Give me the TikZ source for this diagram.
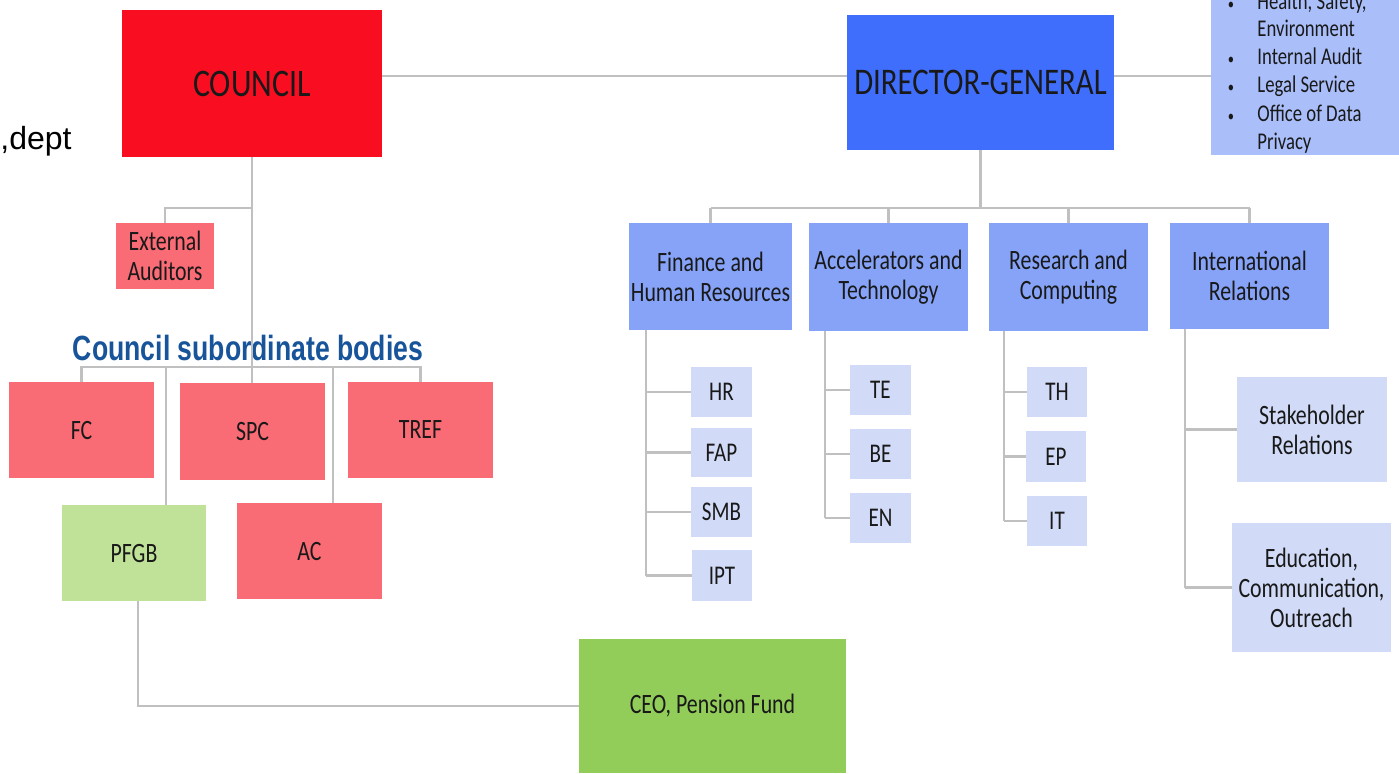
\documentclass[tikz,border=0pt]{standalone}
\usepackage{fontspec}
\setmainfont[FakeStretch=0.78]{Carlito}
\newfontfamily\bigfont[FakeStretch=0.82]{Carlito}
\newfontfamily\arialfont{Liberation Sans}
\newfontfamily\titlefont[FakeStretch=0.76]{Liberation Sans}
\definecolor{cred}{RGB}{248,14,32}
\definecolor{cdg}{RGB}{63,110,253}
\definecolor{cside}{RGB}{170,191,250}
\definecolor{cdept}{RGB}{134,163,248}
\definecolor{cunit}{RGB}{209,219,247}
\definecolor{csalmon}{RGB}{249,107,117}
\definecolor{cpfgb}{RGB}{191,226,152}
\definecolor{cceo}{RGB}{146,205,90}
\definecolor{ctitle}{RGB}{24,84,154}
\definecolor{cline}{RGB}{192,192,192}
\definecolor{ctext}{RGB}{25,25,25}
\tikzset{
  box/.style={rectangle, inner sep=0pt, outer sep=0pt, draw=none, align=center, text=ctext},
  bigtxt/.style={font=\bigfont\fontsize{19.5}{21}\selectfont},
  dgtxt/.style={font=\bigfont\fontsize{18.8}{21}\selectfont},
  midtxt/.style={font=\fontsize{14}{15}\selectfont},
  unittxt/.style={font=\fontsize{13.5}{15}\selectfont},
  sidetxt/.style={font=\fontsize{12}{14}\selectfont, text=ctext, inner sep=0pt},
  bul/.style={font=\fontsize{8}{10}\selectfont, text=ctext, inner sep=0pt},
  conn/.style={draw=cline, line width=1.3pt},
}
% style, name, x1, y1, x2, y2, text  (pixel coordinates)
\newcommand\mkbox[7]{%
  \pgfmathsetmacro\bxw{(#5-#3)*0.5}%
  \pgfmathsetmacro\bxh{(#6-#4)*0.5}%
  \node[box,#1,minimum width=\bxw pt,minimum height=\bxh pt] (#2) at ({(#3+#5)/2},{(#4+#6)/2}) {#7};%
}
\begin{document}
\begin{tikzpicture}[x=0.5pt,y=-0.5pt]
\useasboundingbox (0,0) rectangle (1399,773);
\clip (0,0) rectangle (1399,773);
% helper coordinates
\coordinate (cdline) at (0,76);
\coordinate (eabus) at (0,208);
\coordinate (sbus) at (0,367);
\coordinate (dgbus) at (0,208);
\coordinate (pfx) at (166,0);
\coordinate (acx) at (333,0);
\coordinate (pfcx) at (138,0);
\coordinate (finx) at (646,0);
\coordinate (accx) at (825,0);
\coordinate (resx) at (1004,0);
\coordinate (intx) at (1185,0);
% free text
\node[anchor=base west, inner sep=0pt, font=\arialfont\fontsize{16}{18}\selectfont] (dept) at (0,149) {,dept};
\node[anchor=base, inner sep=0pt, text=ctitle, font=\titlefont\bfseries\fontsize{17.5}{20}\selectfont] (title) at (248,360) {Council subordinate bodies};
% top level
\mkbox{bigtxt, fill=cred}{council}{122}{10}{382}{157}{COUNCIL}
\mkbox{dgtxt, fill=cdg}{dg}{847}{15}{1114}{150}{DIRECTOR-GENERAL}
\mkbox{fill=cside}{side}{1211}{-10}{1410}{155}{}
\node[bul, anchor=base] (b1) at (1231,9) {\textbullet};
\node[sidetxt, anchor=base west] (s1) at (1257,9) {Health, Safety,};
\node[sidetxt, anchor=base west] (s2) at (1257,36) {Environment};
\node[bul, anchor=base] (b3) at (1231,64) {\textbullet};
\node[sidetxt, anchor=base west] (s3) at (1257,64) {Internal Audit};
\node[bul, anchor=base] (b4) at (1231,92) {\textbullet};
\node[sidetxt, anchor=base west] (s4) at (1257,92) {Legal Service};
\node[bul, anchor=base] (b5) at (1231,121) {\textbullet};
\node[sidetxt, anchor=base west] (s5) at (1257,121) {Office of Data};
\node[sidetxt, anchor=base west] (s6) at (1257,149) {Privacy};
% departments
\mkbox{midtxt, fill=cdept}{fin}{629}{223}{792}{330}{Finance and\\Human Resources}
\mkbox{midtxt, fill=cdept}{acc}{809}{223}{968}{331}{Accelerators and\\Technology}
\mkbox{midtxt, fill=cdept}{res}{989}{223}{1148}{331}{Research and\\Computing}
\mkbox{midtxt, fill=cdept}{intl}{1170}{223}{1329}{329}{International\\Relations}
% units
\mkbox{unittxt, fill=cunit}{hr}{691}{367}{752}{417}{HR}
\mkbox{unittxt, fill=cunit}{fap}{691}{428}{752}{477}{FAP}
\mkbox{unittxt, fill=cunit}{smb}{691}{487}{752}{537}{SMB}
\mkbox{unittxt, fill=cunit}{ipt}{692}{550}{752}{601}{IPT}
\mkbox{unittxt, fill=cunit}{te}{850}{365}{911}{415}{TE}
\mkbox{unittxt, fill=cunit}{be}{850}{429}{911}{479}{BE}
\mkbox{unittxt, fill=cunit}{en}{850}{493}{911}{543}{EN}
\mkbox{unittxt, fill=cunit}{th}{1027}{367}{1087}{417}{TH}
\mkbox{unittxt, fill=cunit}{ep}{1026}{431}{1086}{482}{EP}
\mkbox{unittxt, fill=cunit}{it}{1027}{496}{1087}{546}{IT}
\mkbox{midtxt, fill=cunit}{stake}{1237}{377}{1387}{482}{Stakeholder\\Relations}
\mkbox{midtxt, fill=cunit}{edu}{1232}{523}{1391}{652}{Education,\\Communication,\\Outreach}
% council side
\mkbox{midtxt, fill=csalmon}{ea}{116}{223}{214}{289}{External\\Auditors}
\mkbox{midtxt, fill=csalmon}{fc}{9}{382}{154}{478}{FC}
\mkbox{midtxt, fill=csalmon}{spc}{180}{383}{325}{480}{SPC}
\mkbox{midtxt, fill=csalmon}{tref}{348}{382}{493}{478}{TREF}
\mkbox{midtxt, fill=cpfgb}{pfgb}{62}{505}{206}{601}{PFGB}
\mkbox{midtxt, fill=csalmon}{ac}{237}{503}{382}{599}{AC}
\mkbox{midtxt, fill=cceo}{ceo}{579}{639}{846}{773}{CEO, Pension Fund}
% connectors
\draw[conn] (council.east |- cdline) -- (dg.west |- cdline);
\draw[conn] (dg.east |- cdline) -- (side.west |- cdline);
\draw[conn] (dg.south) -- (dg.south |- dgbus);
\draw[conn] (fin.north |- dgbus) -- (intl.north |- dgbus);
\foreach \n in {fin,acc,res,intl} \draw[conn] (\n.north |- dgbus) -- (\n.north);
\draw[conn] (fin.south -| finx) -- (finx |- ipt.west);
\foreach \n in {hr,fap,smb,ipt} \draw[conn] (finx |- \n.west) -- (\n.west);
\draw[conn] (acc.south -| accx) -- (accx |- en.west);
\foreach \n in {te,be,en} \draw[conn] (accx |- \n.west) -- (\n.west);
\draw[conn] (res.south -| resx) -- (resx |- it.west);
\foreach \n in {th,ep,it} \draw[conn] (resx |- \n.west) -- (\n.west);
\draw[conn] (intl.south -| intx) -- (intx |- edu.west);
\foreach \n in {stake,edu} \draw[conn] (intx |- \n.west) -- (\n.west);
\draw[conn] (council.south) -- (council.south |- spc.north);
\draw[conn] (council.south |- eabus) -| (ea.north);
\draw[conn] (fc.north) -- (fc.north |- sbus) -- (tref.north |- sbus) -- (tref.north);
\draw[conn] (pfx |- sbus) -- (pfx |- pfgb.north);
\draw[conn] (acx |- sbus) -- (acx |- ac.north);
\draw[conn] (pfgb.south -| pfcx) |- (ceo.west);
\end{tikzpicture}
\end{document}
